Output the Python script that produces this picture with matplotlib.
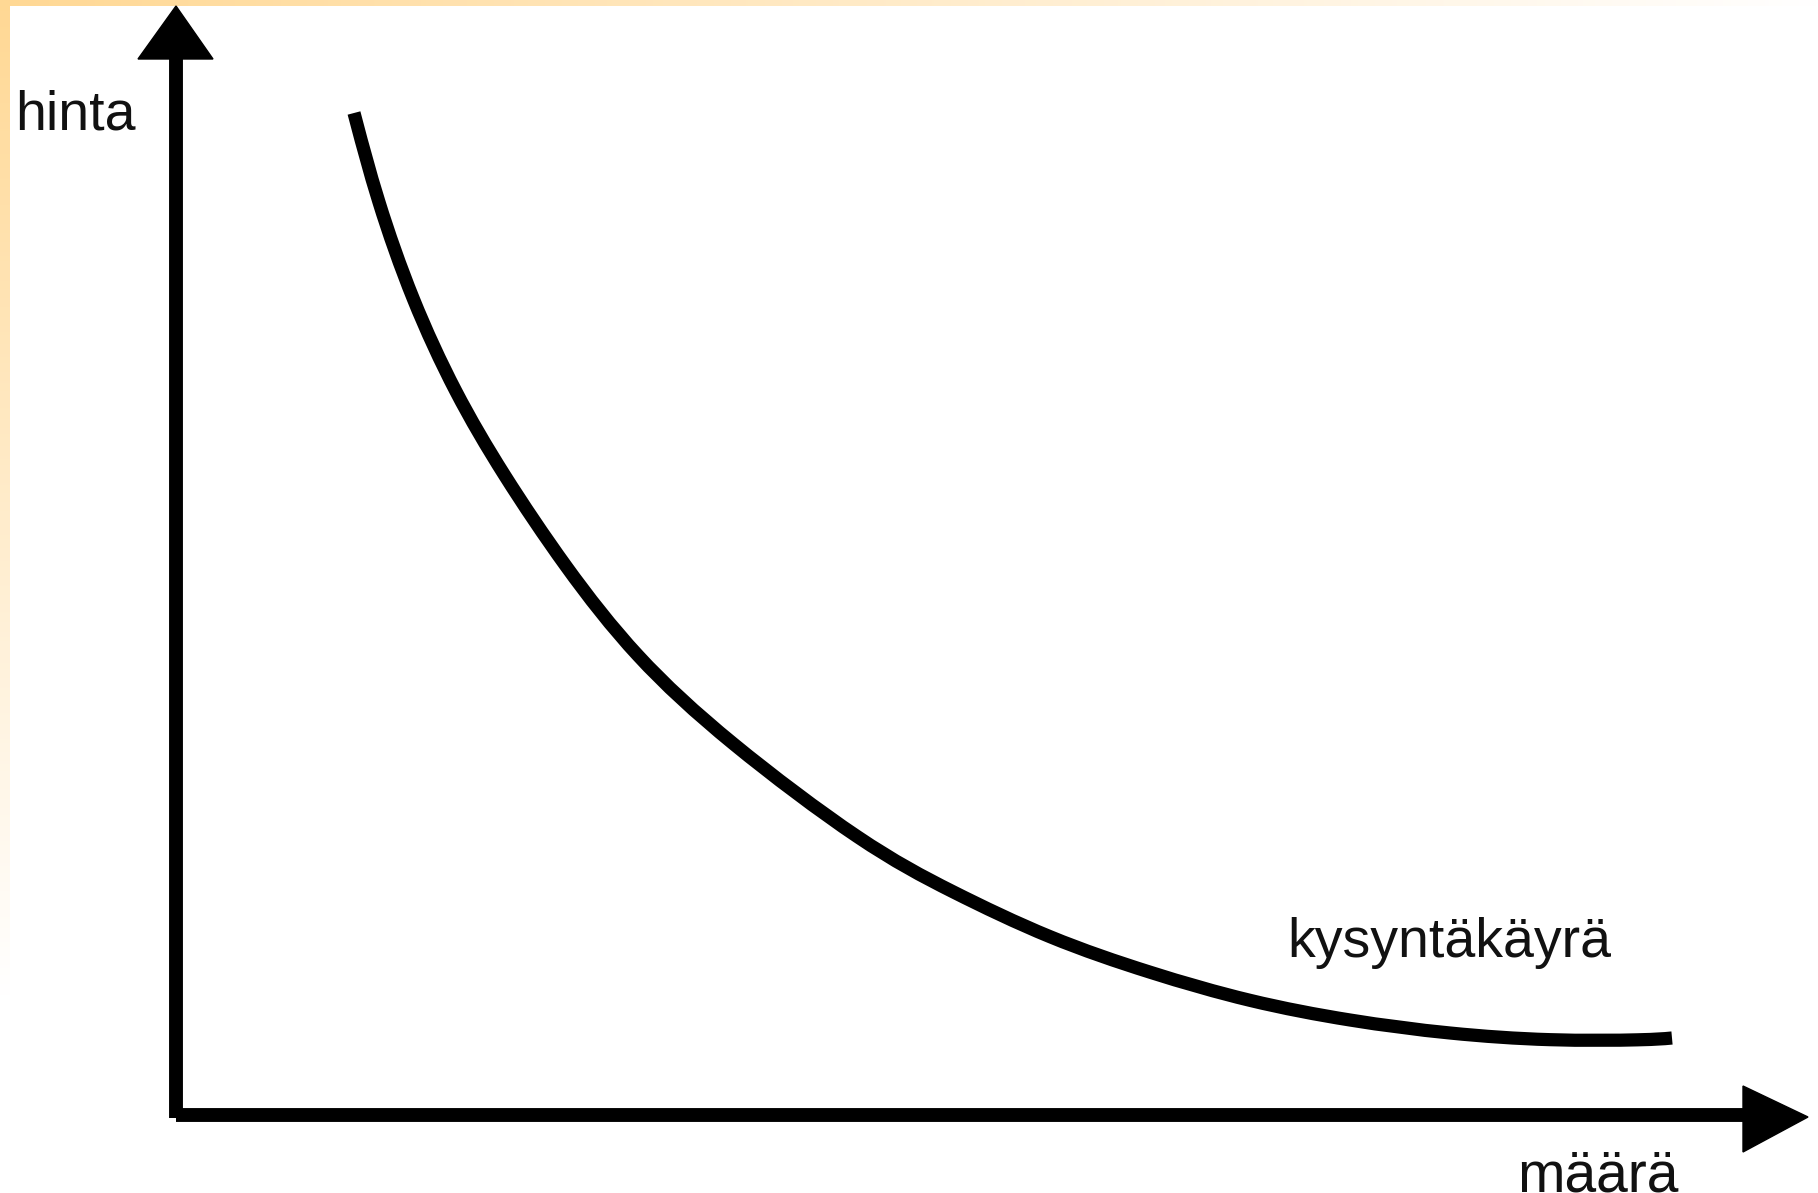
import numpy as np
import matplotlib
matplotlib.use("Agg")
import matplotlib.pyplot as plt
from matplotlib.patches import Polygon, PathPatch
from matplotlib.path import Path

# demand curve (quantity, price)
maara = [1.78, 2.01, 2.36, 2.79, 3.26, 3.89, 4.59, 5.49, 6.91, 7.74,
         8.74, 9.74, 10.74, 11.74, 12.74, 13.74, 14.74, 14.96]
hinta = [10.02, 9.15, 8.15, 7.22, 6.42, 5.48, 4.58, 3.75, 2.68, 2.24,
         1.76, 1.42, 1.13, 0.94, 0.81, 0.74, 0.75, 0.77]

y_label = "hinta"
x_label = "määrä"
curve_label = "kysyntäkäyrä"


# smooth path along the points (clamped cubic b-spline as bezier segments)
def smooth_path(xs, ys):
    p = np.column_stack([xs, ys])
    q = np.vstack([p[0], p[0], p, p[-1], p[-1]])
    verts = [p[0]]
    codes = [Path.MOVETO]
    for i in range(1, len(q) - 2):
        a, b, c, d = q[i - 1], q[i], q[i + 1], q[i + 2]
        verts += [(2 * b + c) / 3, (b + 2 * c) / 3, (b + 4 * c + d) / 6]
        codes += [Path.CURVE4] * 3
    return Path(verts, codes)


W, H = 1818, 1193
fig = plt.figure(figsize=(W / 100, H / 100), dpi=100)
fig.patch.set_facecolor("white")

# orange gradient bands on top and left edge
bg = fig.add_axes([0, 0, 1, 1])
bg.axis("off")
orange = np.array([255, 216, 148]) / 255.0
white = np.ones(3)
t = np.linspace(0, 1, 400)[:, None]
top = (orange * (1 - t) + white * t)[None, :, :]
bg.imshow(top, extent=(0, W, 6, 0), aspect="auto", interpolation="bilinear")
tl = np.clip(np.linspace(0, 1.2, 400), 0, 1)[:, None]
left = (orange * (1 - tl) + white * tl)[:, None, :]
bg.imshow(left, extent=(0, 10, H, 0), aspect="auto", interpolation="bilinear")
bg.set_xlim(0, W)
bg.set_ylim(H, 0)

ax = fig.add_axes([0, 0, 1, 1])
ax.patch.set_alpha(0)
ax.set_xlim(-1.76, 16.42)
ax.set_ylim(-0.78, 11.15)
ax.axis("off")

lw = 10
# axes with arrow heads
ax.plot([0, 0], [-0.03, 10.6], color="black", lw=lw, solid_capstyle="butt")
ax.plot([0, 15.7], [0, 0], color="black", lw=lw, solid_capstyle="butt")
ax.add_patch(Polygon([[-0.38, 10.56], [0.37, 10.56], [0, 11.09]],
                     closed=True, color="black"))
ax.add_patch(Polygon([[15.67, 0.29], [15.67, -0.37], [16.32, -0.02]],
                     closed=True, color="black"))

# demand curve
ax.add_patch(PathPatch(smooth_path(maara, hinta), facecolor="none",
                       edgecolor="black", lw=9.5, capstyle="butt"))

font = dict(family="Liberation Sans", color="#111111")
ax.text(-1.61, 9.85, y_label, ha="left", va="baseline", fontsize=40, **font)
ax.text(11.11, 1.58, curve_label, ha="left", va="baseline", fontsize=40, **font)
ax.text(13.41, -0.76, x_label, ha="left", va="baseline", fontsize=41, **font)

fig.savefig("out.png", dpi=100)
